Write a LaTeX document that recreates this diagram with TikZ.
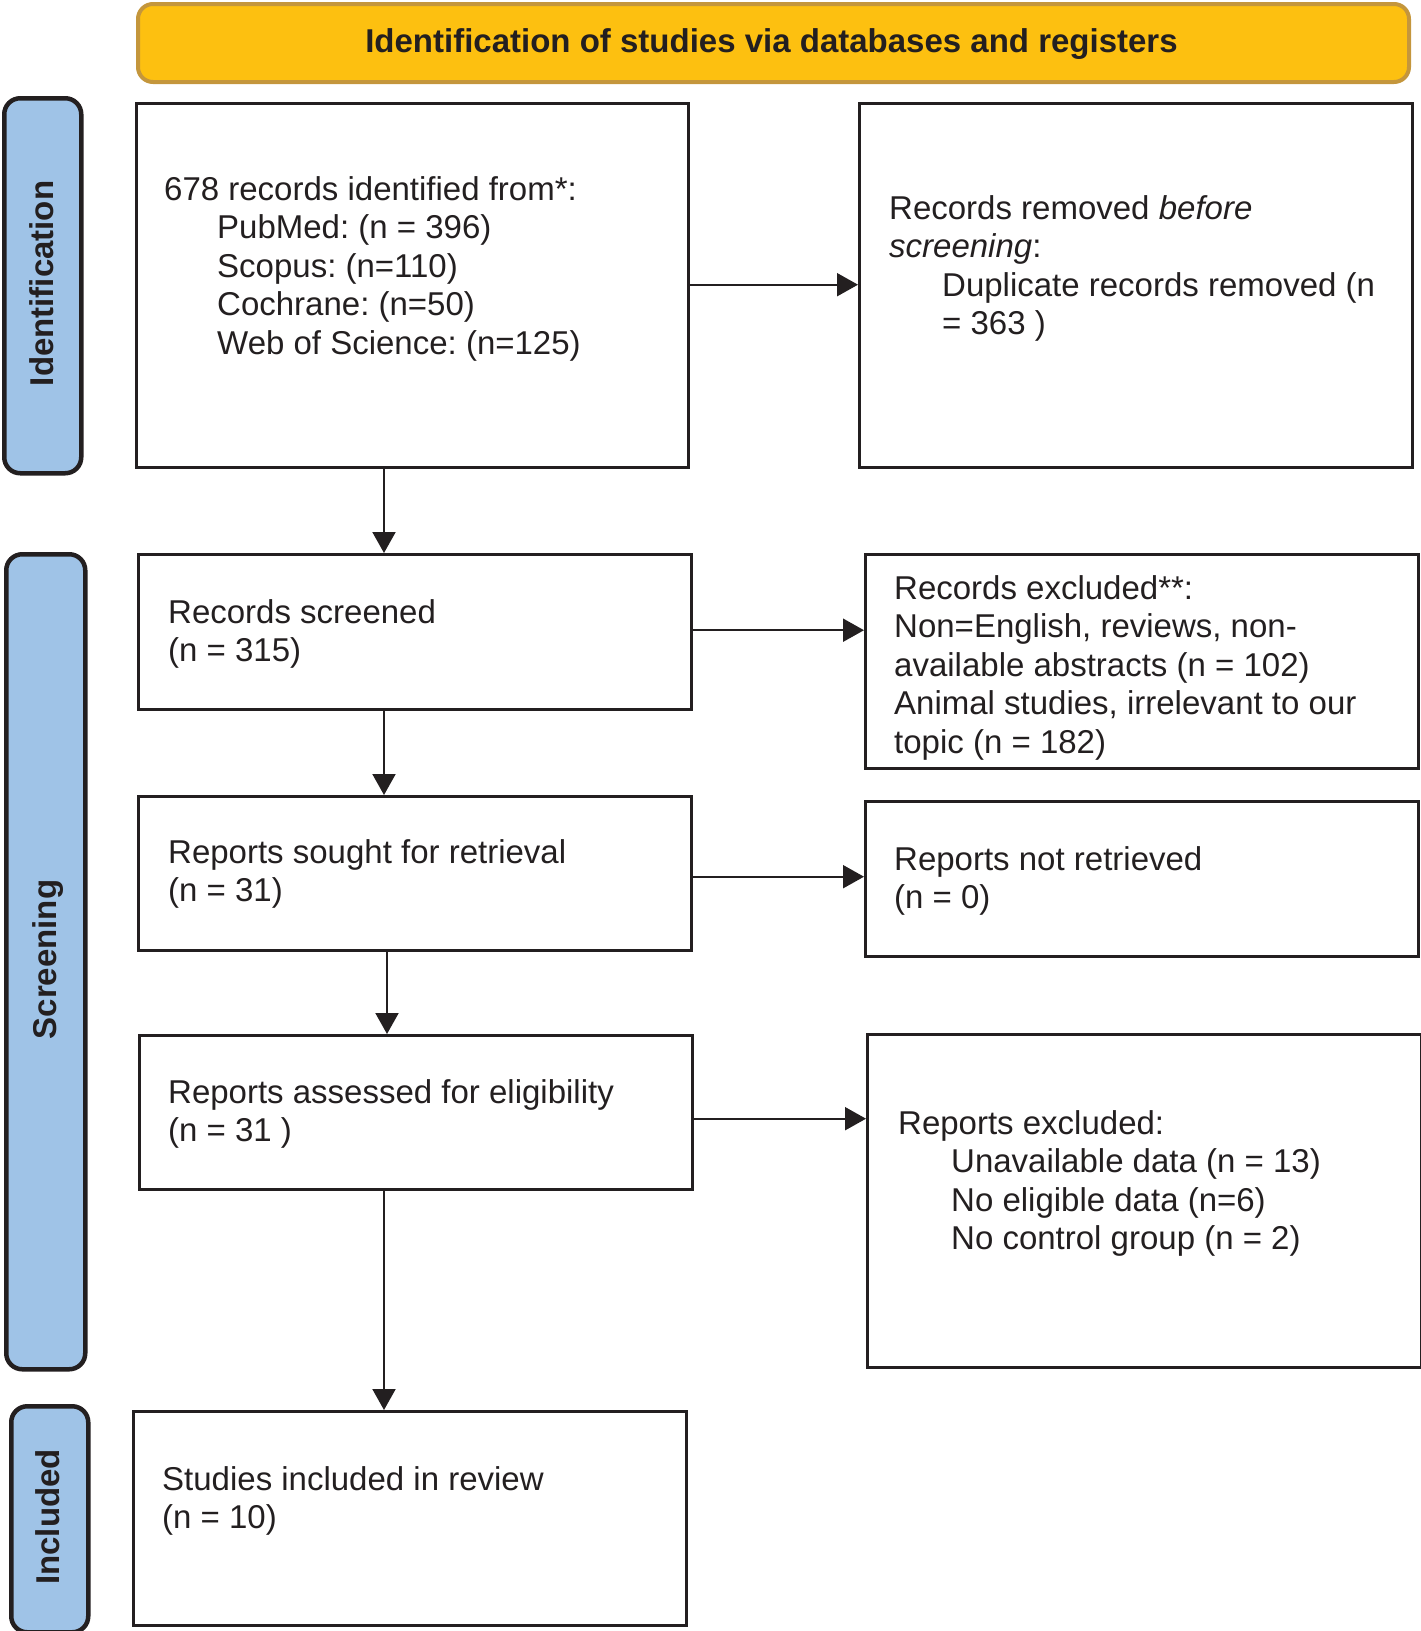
\documentclass[tikz,border=0pt]{standalone}
\usepackage{fontspec}
\setmainfont{Liberation Sans}
\usetikzlibrary{arrows.meta}
\frenchspacing
\definecolor{ink}{HTML}{231F20}
\definecolor{hdrfill}{HTML}{FDC010}
\definecolor{hdrline}{HTML}{C4963C}
\definecolor{lblfill}{HTML}{9FC3E7}
\tikzset{
  box/.style={draw=ink, line width=3.4pt, rectangle, inner sep=0pt, anchor=north west},
  phase/.style={draw=ink, fill=lblfill, line width=4.5pt, rectangle, rounded corners=16pt, inner sep=0pt, anchor=north west},
  hdr/.style={draw=hdrline, fill=hdrfill, line width=4pt, rectangle, rounded corners=15pt, inner sep=0pt, anchor=north west},
  txt/.style={inner sep=0pt, anchor=base west, text=ink, font=\fontsize{33}{38.5}\selectfont},
  btxt/.style={inner sep=0pt, text=ink, font=\fontsize{33}{38.5}\selectfont\bfseries},
  arr/.style={draw=ink, line width=2pt, -{Triangle[length=21pt,width=23pt]}}
}
\newcommand{\ind}{\hspace*{53pt}}
\begin{document}
\begin{tikzpicture}[x=1pt,y=-1pt]
\useasboundingbox (0,0) rectangle (1421,1631);
% header
\node[hdr, minimum width=1271pt, minimum height=78pt] (hd) at (136,2) {};
\node[btxt, anchor=base] (hdt) at (771.5,52) {Identification of studies via databases and registers};
% phase labels
\node[phase, minimum width=77pt, minimum height=375pt] (l1) at (2,96) {};
\node[btxt, rotate=90, anchor=base] (l1t) at (53,283.5) {Identification};
\node[phase, minimum width=79pt, minimum height=815pt] (l2) at (4,552) {};
\node[btxt, rotate=90, anchor=base] (l2t) at (56,959.5) {Screening};
\node[phase, minimum width=77pt, minimum height=226pt] (l3) at (9,1404) {};
\node[btxt, rotate=90, anchor=base] (l3t) at (59,1517) {Included};
% boxes
\node[box, minimum width=552pt, minimum height=364pt] (b1) at (135,102) {};
\node[box, minimum width=553pt, minimum height=364pt] (b2) at (858,102) {};
\node[box, minimum width=553pt, minimum height=155pt] (b3) at (137,553) {};
\node[box, minimum width=553pt, minimum height=214pt] (b4) at (864,553) {};
\node[box, minimum width=553pt, minimum height=154pt] (b5) at (137,795) {};
\node[box, minimum width=553pt, minimum height=155pt] (b6) at (864,800) {};
\node[box, minimum width=553pt, minimum height=154pt] (b7) at (138,1034) {};
\node[box, minimum width=554pt, minimum height=333pt] (b8) at (866,1033) {};
\node[box, minimum width=553pt, minimum height=214pt] (b9) at (132,1410) {};
% texts
\node[txt] (t1) at (164,200) {\begin{tabular}[t]{@{}l@{}}678 records identified from*:\\\ind PubMed: (n = 396)\\\ind Scopus: (n=110)\\\ind Cochrane: (n=50)\\\ind Web of Science: (n=125)\end{tabular}};
\node[txt] (t2) at (889,219) {\begin{tabular}[t]{@{}l@{}}Records removed \textit{before}\\\textit{screening}:\\\ind Duplicate records removed (n\\\ind = 363 )\end{tabular}};
\node[txt] (t3) at (168,623) {\begin{tabular}[t]{@{}l@{}}Records screened\\(n = 315)\end{tabular}};
\node[txt] (t4) at (894,599) {\begin{tabular}[t]{@{}l@{}}Records excluded**:\\Non=English, reviews, non-\\available abstracts (n = 102)\\Animal studies, irrelevant to our\\topic (n = 182)\end{tabular}};
\node[txt] (t5) at (168,863) {\begin{tabular}[t]{@{}l@{}}Reports sought for retrieval\\(n = 31)\end{tabular}};
\node[txt] (t6) at (894,870) {\begin{tabular}[t]{@{}l@{}}Reports not retrieved\\(n = 0)\end{tabular}};
\node[txt] (t7) at (168,1103) {\begin{tabular}[t]{@{}l@{}}Reports assessed for eligibility\\(n = 31 )\end{tabular}};
\node[txt] (t8) at (898,1134) {\begin{tabular}[t]{@{}l@{}}Reports excluded:\\\ind Unavailable data (n = 13)\\\ind No eligible data (n=6)\\\ind No control group (n = 2)\end{tabular}};
\node[txt] (t9) at (162,1490) {\begin{tabular}[t]{@{}l@{}}Studies included in review\\(n = 10)\end{tabular}};
% vertical arrows
\draw[arr] ([xshift=249pt]b1.south west) -- ([xshift=247pt]b3.north west);
\draw[arr] ([xshift=247pt]b3.south west) -- ([xshift=247pt]b5.north west);
\draw[arr] ([xshift=250pt]b5.south west) -- ([xshift=249pt]b7.north west);
\draw[arr] ([xshift=246pt]b7.south west) -- ([xshift=252pt]b9.north west);
% horizontal arrows
\draw[arr] ([yshift=1pt]b1.east) -- ([yshift=1pt]b1.east -| b2.west);
\draw[arr] ([yshift=2pt]b3.east) -- ([yshift=2pt]b3.east -| b4.west);
\draw[arr] ([yshift=-3pt]b5.east) -- ([yshift=-3pt]b5.east -| b6.west);
\draw[arr] ([yshift=-6pt]b7.east) -- ([yshift=-6pt]b7.east -| b8.west);
\end{tikzpicture}
\end{document}
